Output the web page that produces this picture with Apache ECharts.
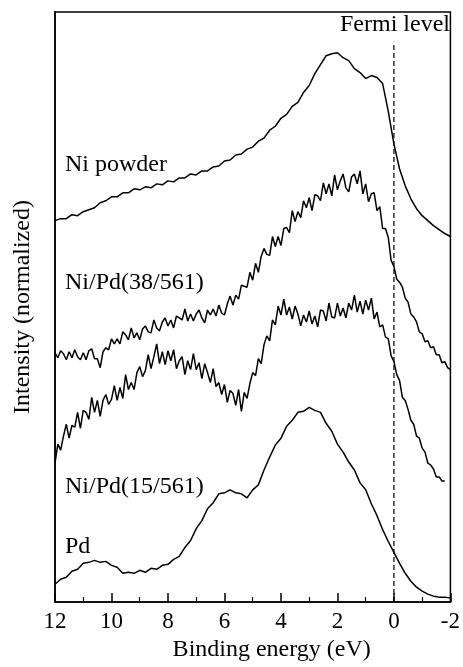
<!DOCTYPE html>
<html>
<head>
<meta charset="utf-8">
<script src="https://cdn.jsdelivr.net/npm/echarts@6/dist/echarts.min.js"></script>
<style>
  html, body { margin: 0; padding: 0; background: #fff; }
  #chart { width: 463px; height: 667px; }
</style>
</head>
<body>
<div id="chart"></div>
<script>
// binding energy grids (eV)
const energyCoarse = []; // 12 -> -2, step 0.2
for (let i = 0; i <= 70; i++) energyCoarse.push(+(12 - i * 0.2).toFixed(1));
const energyFine = []; // 12 -> -2, step 0.1
for (let i = 0; i <= 140; i++) energyFine.push(+(12 - i * 0.1).toFixed(1));

// intensities (arbitrary units, stacked offsets)
const niPowder = [384,386,386,390,389,393,395,397,402,404,
  408,408,412,412,416,415,418,417,421,420,
  424,423,427,427,431,430,434,434,438,439,
  444,445,450,451,456,458,464,467,475,479,
  487,491,499,503,513,520,532,541,550,552,
  553,548,545,537,533,527,530,528,522,494,
  461,436,419,406,396,389,384,379,375,371,368];

const niPd38 = [251,246,253,250,244,252,246,254,247,244,
  251,244,253,255,245,245,236,252,256,254,
  265,260,265,260,272,269,264,276,266,271,
  264,275,278,272,271,284,276,273,282,286,
  278,284,276,288,286,284,295,283,290,283,
  290,294,286,281,294,289,295,288,299,291,
  289,300,308,299,309,305,319,318,317,332,
  324,341,332,348,356,350,349,368,358,368,
  359,376,377,372,394,383,393,387,404,397,
  407,394,410,409,404,422,411,421,409,430,
  415,424,431,417,413,428,431,421,434,411,
  421,403,411,412,394,398,376,376,367,344,
  338,325,322,317,306,302,290,287,282,272,
  270,262,263,256,257,249,249,241,242,236,234];

const niPd15 = [140,159,153,167,179,165,178,176,191,175,
  193,191,184,206,191,203,187,203,209,199,
  204,218,203,216,205,229,214,221,214,231,
  237,227,233,249,235,247,260,240,252,239,
  253,243,254,235,243,247,229,243,234,250,
  234,241,225,240,231,221,235,217,221,209,
  219,201,213,210,198,214,192,211,205,220,
  231,228,245,240,259,268,263,284,279,298,
  289,305,289,297,285,298,290,278,289,282,
  293,280,288,277,294,293,283,301,287,286,
  301,288,296,286,301,294,309,292,303,290,
  304,294,306,285,292,277,279,267,265,248,
  242,229,223,206,203,194,183,179,167,165,
  155,151,140,138,134,126,126,122,122];

const pd = [18,23,25,31,33,39,40,42,40,41,
  37,35,29,30,29,32,30,34,33,37,
  38,43,46,55,62,74,82,94,100,109,
  110,113,110,109,105,113,118,133,146,158,
  165,177,183,191,192,196,193,191,180,172,
  159,151,141,133,120,113,99,87,73,61,
  50,39,29,21,15,11,8,6,5,5,4];

const fermiEnergy = [0, 0];
const fermiSpan = [0, 564];

const xTicks = [12, 10, 8, 6, 4, 2, 0, -2];

const serif = '"Liberation Serif", "Times New Roman", serif';

const pairs = (xs, ys) => ys.map((y, i) => [xs[i], y]);

const myChart = echarts.init(document.getElementById('chart'));

const curve = (data) => ({
  type: 'line',
  data: data,
  showSymbol: false,
  symbol: 'none',
  animation: false,
  lineStyle: { color: '#000', width: 1.5 },
});

const label = (text, x, y) => ({
  type: 'text', x: x, y: y,
  style: { text: text, font: '24px ' + serif, fill: '#000', verticalAlign: 'middle' },
});

const option = {
  animation: false,
  backgroundColor: '#fff',
  grid: {
    left: 55, right: 8, top: 12, bottom: 61,
    show: true, borderColor: '#000', borderWidth: 1.5,
  },
  xAxis: {
    type: 'value',
    inverse: true,
    min: -2,
    max: 12,
    interval: 2,
    name: 'Binding energy (eV)',
    nameLocation: 'middle',
    nameGap: 30,
    nameTextStyle: { fontFamily: serif, fontSize: 24, color: '#000', padding: [0, 0, 0, 38] },
    axisLine: { show: true, onZero: false, lineStyle: { color: '#000', width: 1.5 } },
    axisTick: { show: true, inside: true, length: 9, lineStyle: { color: '#000', width: 1.5 } },
    minorTick: { show: true, splitNumber: 2, length: 5, lineStyle: { color: '#000', width: 1.2 } },
    axisLabel: {
      margin: 8,
      fontFamily: serif, fontSize: 23, color: '#000',
      formatter: (v) => (xTicks.includes(v) ? String(v) : ''),
    },
    splitLine: { show: false },
  },
  yAxis: {
    type: 'value',
    min: 0,
    max: 594,
    name: 'Intensity (normalized)',
    nameLocation: 'middle',
    nameGap: 20,
    nameTextStyle: { fontFamily: serif, fontSize: 24, color: '#000' },
    axisLine: { show: true, onZero: false, lineStyle: { color: '#000', width: 1.5 } },
    axisTick: { show: false },
    axisLabel: { show: false },
    splitLine: { show: false },
  },
  series: [
    curve(pairs(energyCoarse, niPowder)),
    curve(pairs(energyFine, niPd38)),
    curve(pairs(energyFine, niPd15)),
    curve(pairs(energyCoarse, pd)),
    {
      type: 'line',
      data: pairs(fermiEnergy, fermiSpan),
      symbol: 'none',
      animation: false,
      z: 1,
      lineStyle: { color: '#000', width: 1.2, type: [5, 3] },
    },
  ],
  graphic: [
    label('Ni powder', 65, 165),
    label('Ni/Pd(38/561)', 65, 283),
    label('Ni/Pd(15/561)', 65, 487),
    label('Pd', 65, 547),
    label('Fermi level', 340, 25),
  ],
};

myChart.setOption(option);
window.addEventListener('resize', () => myChart.resize());
</script>
</body>
</html>
